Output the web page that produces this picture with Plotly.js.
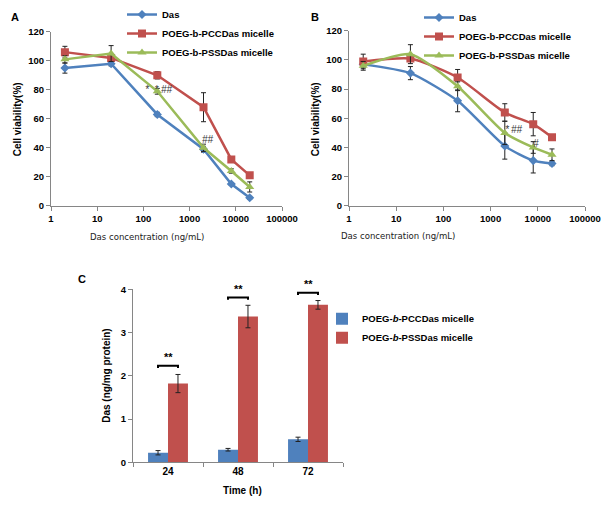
<!DOCTYPE html>
<html>
<head>
<meta charset="utf-8">
<script src="https://cdn.plot.ly/plotly-3.0.1.min.js"></script>
<style>
  body { margin: 0; background: #fff; }
  #chart { width: 604px; height: 506px; }
</style>
</head>
<body>
<div id="chart"></div>
<script>
// concentrations (ng/mL) used in A and B
var conc = [2, 20, 200, 2000, 8000, 20000];
var decadeTicks = [1, 10, 100, 1000, 10000, 100000];
var decadeLabels = ['1', '10', '100', '1000', '10000', '100000'];

// panel A
var dasA = [95, 98, 63, 39, 15, 5.5];
var dasAErr = [3.5, 1.5, 1.5, 2, 1, 1];
var pccA = [106, 102, 90, 68, 32, 21];
var pccAErr = [4, 2, 2.5, 10, 1.5, 1.5];
var pssA = [101, 105, 79, 40, 24, 13];
var pssAErr = [2.5, 5.5, 2, 2.5, 1.5, 3.5];

// panel B
var dasB = [97, 91, 72, 41, 31, 29];
var dasBErr = [2, 4.5, 7.5, 9, 8.5, 1.5];
var pccB = [99, 101, 88, 64, 56, 47];
var pccBErr = [5, 2, 5.5, 6, 8, 1.5];
var pssB = [96, 104, 82, 50, 40, 35];
var pssBErr = [3, 6.5, 3, 8, 4, 4];

// panel C
var times = ['24', '48', '72'];
var pccC = [0.22, 0.29, 0.53];
var pccCErr = [0.05, 0.03, 0.05];
var pssC = [1.82, 3.37, 3.64];
var pssCErr = [0.21, 0.26, 0.10];

var blue = '#4F81BD', red = '#C0504D', green = '#9BBB59';
var axGray = '#868686';
var boldFont = {family: 'Liberation Sans, Arial', size: 10, color: '#000', weight: 'bold'};
var tickFont = {family: 'Liberation Sans, Arial', size: 9.5, color: '#000', weight: 'bold'};

function errBar(arr) {
  return {type: 'data', array: arr, visible: true, color: '#222', thickness: 1, width: 2.5};
}

function lineTrace(y, err, name, color, symbol, size, xa, ya, leg, shape) {
  return {
    x: conc, y: y, name: name, type: 'scatter', mode: 'lines+markers',
    xaxis: xa, yaxis: ya, legend: leg,
    line: {color: color, width: 2.5, shape: shape || 'linear', smoothing: 0.6},
    marker: {color: color, symbol: symbol, size: size},
    error_y: errBar(err)
  };
}

var data = [
  lineTrace(dasA, dasAErr, 'Das', blue, 'diamond', 7, 'x', 'y', 'legend'),
  lineTrace(pccA, pccAErr, 'POEG-b-PCCDas micelle', red, 'square', 8, 'x', 'y', 'legend'),
  lineTrace(pssA, pssAErr, 'POEG-b-PSSDas micelle', green, 'triangle-up', 8, 'x', 'y', 'legend'),
  lineTrace(dasB, dasBErr, 'Das', blue, 'diamond', 7, 'x2', 'y2', 'legend2', 'spline'),
  lineTrace(pccB, pccBErr, 'POEG-b-PCCDas micelle', red, 'square', 8, 'x2', 'y2', 'legend2', 'spline'),
  lineTrace(pssB, pssBErr, 'POEG-b-PSSDas micelle', green, 'triangle-up', 8, 'x2', 'y2', 'legend2', 'spline'),
  {
    x: times, y: pccC, name: 'POEG-<i>b</i>-PCCDas micelle', type: 'bar',
    xaxis: 'x3', yaxis: 'y3', legend: 'legend3',
    marker: {color: blue}, error_y: errBar(pccCErr)
  },
  {
    x: times, y: pssC, name: 'POEG-<i>b</i>-PSSDas micelle', type: 'bar',
    xaxis: 'x3', yaxis: 'y3', legend: 'legend3',
    marker: {color: red}, error_y: errBar(pssCErr)
  }
];

function logAxis(domain, anchor) {
  return {
    domain: domain, anchor: anchor, type: 'log', range: [0, 5],
    tickmode: 'array', tickvals: decadeTicks, ticktext: decadeLabels,
    showline: true, linecolor: axGray, linewidth: 1,
    ticks: 'outside', ticklen: 4, tickcolor: axGray,
    showgrid: false, zeroline: false, tickfont: tickFont
  };
}
function linAxis(domain, anchor, range, dtick) {
  return {
    domain: domain, anchor: anchor, range: range, dtick: dtick,
    showline: true, linecolor: axGray, linewidth: 1,
    ticks: 'outside', ticklen: 4, tickcolor: axGray,
    showgrid: false, zeroline: false, tickfont: tickFont
  };
}

var W = 604, H = 506;
function px(a, b) { return [a / W, b / W]; }
function py(t, b) { return [(H - b) / H, (H - t) / H]; }

var annotations = [];
function label(text, x, y, font, extra) {
  var a = {text: text, x: x / W, y: (H - y) / H, xref: 'paper', yref: 'paper',
    showarrow: false, font: font, xanchor: 'center', yanchor: 'middle'};
  for (var k in extra) a[k] = extra[k];
  annotations.push(a);
}

var thinFont = {family: 'DejaVu Sans Condensed, Roboto, sans-serif', size: 9.5, color: '#222'};
var starFont = {family: 'Liberation Sans, Arial', size: 10, color: '#333', style: 'italic'};

label('A', 15, 14, {family: 'Liberation Sans, Arial', size: 11, color: '#000', weight: 'bold'});
label('B', 315, 14, {family: 'Liberation Sans, Arial', size: 11, color: '#000', weight: 'bold'});
label('C', 82, 278, {family: 'Liberation Sans, Arial', size: 11, color: '#000', weight: 'bold'});
label('Cell viability(%)', 17, 117, boldFont, {textangle: -90});
label('Cell viability(%)', 315, 117, boldFont, {textangle: -90});
label('Das concentration (ng/mL)', 147, 235, thinFont);
label('Das concentration (ng/mL)', 398, 234, thinFont);
label('Das (ng/mg protein)', 107, 375, boldFont, {textangle: -90});
label('Time (h)', 242, 490, boldFont);

// significance marks on the line charts (log axis x in log10 units)
annotations.push({text: '*  *', x: Math.log10(200) - 0.12, y: 80, xref: 'x', yref: 'y', showarrow: false, font: starFont});
annotations.push({text: '##', x: Math.log10(200) + 0.2, y: 80, xref: 'x', yref: 'y', showarrow: false, font: starFont});
annotations.push({text: '##', x: Math.log10(2000) + 0.1, y: 46, xref: 'x', yref: 'y', showarrow: false, font: starFont});
annotations.push({text: '*', x: Math.log10(2000) + 0.05, y: 52, xref: 'x2', yref: 'y2', showarrow: false, font: starFont});
annotations.push({text: '##', x: Math.log10(2000) + 0.25, y: 52, xref: 'x2', yref: 'y2', showarrow: false, font: starFont});
annotations.push({text: '#', x: Math.log10(8000) + 0.05, y: 43, xref: 'x2', yref: 'y2', showarrow: false, font: starFont});

// brackets over each pair of bars in C
var shapes = [];
var half = 0.143, drop = 0.05;
for (var i = 0; i < times.length; i++) {
  var yb = pssC[i] + pssCErr[i] + (i > 0 ? 0.18 : 0.2);
  var x0 = i - half, x1 = i + half;
  shapes.push({
    type: 'path', xref: 'x3', yref: 'y3',
    path: 'M' + x0 + ',' + (yb - drop) + ' L' + x0 + ',' + yb + ' L' + x1 + ',' + yb + ' L' + x1 + ',' + (yb - drop),
    line: {color: '#000', width: 2}
  });
  annotations.push({text: '**', x: i, y: yb + 0.02, xref: 'x3', yref: 'y3', showarrow: false,
    yanchor: 'bottom', font: {family: 'Liberation Sans, Arial', size: 11, color: '#000', weight: 'bold'}});
}

var legFont = {family: 'Liberation Sans, Arial', size: 9.5, color: '#000', weight: 'bold'};

var layout = {
  width: W, height: H,
  margin: {l: 0, r: 0, t: 0, b: 0},
  paper_bgcolor: '#fff', plot_bgcolor: 'rgba(0,0,0,0)',
  showlegend: true,
  barmode: 'group', bargap: 0.43, bargroupgap: 0,
  xaxis: logAxis(px(51, 282), 'y'),
  yaxis: linAxis(py(29, 204), 'x', [0, 120], 20),
  xaxis2: logAxis(px(349, 585), 'y2'),
  yaxis2: linAxis(py(28, 204), 'x2', [0, 120], 20),
  xaxis3: {
    domain: px(133, 343), anchor: 'y3', type: 'category',
    showline: true, linecolor: axGray, linewidth: 1,
    ticks: 'outside', ticklen: 4, tickcolor: axGray, tickson: 'boundaries',
    showgrid: false, tickfont: {family: 'Liberation Sans, Arial', size: 10, color: '#000', weight: 'bold'}
  },
  yaxis3: linAxis(py(288, 462), 'x3', [0, 4], 1),
  legend: {x: 122 / W, y: (H + 3) / H, xanchor: 'left', yanchor: 'top',
    bgcolor: 'rgba(0,0,0,0)', font: legFont, itemwidth: 30, tracegroupgap: 0},
  legend2: {x: 419 / W, y: H / H, xanchor: 'left', yanchor: 'top',
    bgcolor: 'rgba(0,0,0,0)', font: legFont, itemwidth: 30, tracegroupgap: 0},
  legend3: {x: 322 / W, y: (H - 303) / H, xanchor: 'left', yanchor: 'top',
    bgcolor: 'rgba(0,0,0,0)', font: legFont, itemwidth: 30, tracegroupgap: 0},
  annotations: annotations,
  shapes: shapes
};

Plotly.newPlot('chart', data, layout, {displayModeBar: false, staticPlot: true});
</script>
</body>
</html>
